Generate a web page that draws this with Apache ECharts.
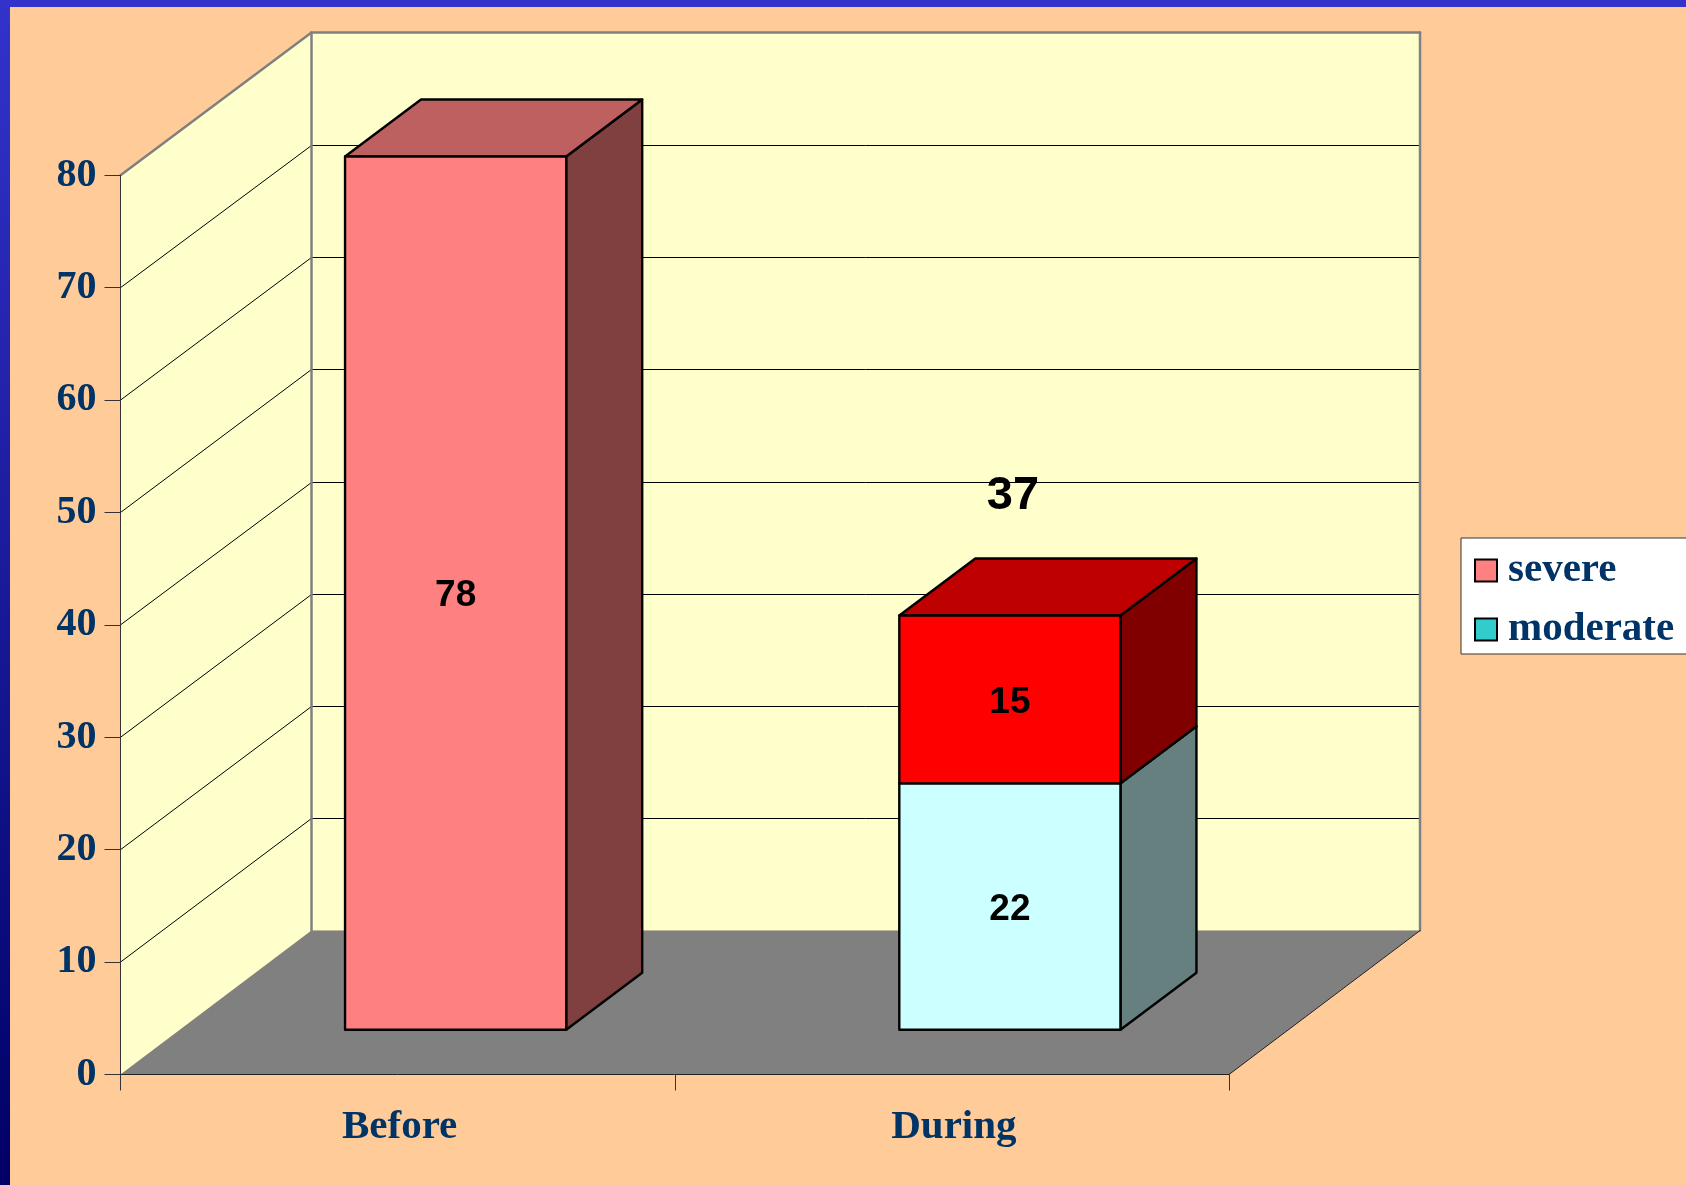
<!DOCTYPE html>
<html>
<head>
<meta charset="utf-8">
<style>html,body{margin:0;padding:0;background:#FFCC99}#c{width:1686px;height:1185px}</style>
<script src="https://cdn.jsdelivr.net/npm/echarts@6/dist/echarts.min.js"></script>
</head>
<body>
<div id="c"></div>
<script>
const categories = ['Before', 'During'];
const moderateValues = [0, 22];
const severeValues = [78, 15];
const totalLabels = [null, 37];
const yTicks = [10, 20, 30, 40, 50, 60, 70];
const legendNames = ['severe', 'moderate'];

const moderateFaces = ['#CCFFFF', '#CCFFFF'];
const severeFaces = ['#FF8080', '#FF0000'];

const WALL_DX = 191, WALL_DY = -143.9, WALL_SCALE = 0.9988;
const LIFT_DX = 58, LIFT_DY = -44.8;
const BAR_DX = 76, BAR_DY = -57;
const BAR_RATIO = 0.399;
const BAR_SCALE = 0.996;
const GRID_COLOR = '#000000', WALL_EDGE = '#808080';

function shade(hex, k) {
  const n = parseInt(hex.slice(1), 16);
  const c = [(n >> 16) & 255, (n >> 8) & 255, n & 255].map(v => Math.round(v * k));
  return 'rgb(' + c.join(',') + ')';
}
function poly(points, fill, stroke, width) {
  return { type: 'polygon', shape: { points }, style: { fill, stroke: stroke || null, lineWidth: width || 0, lineJoin: 'round' } };
}
function seg(a, b, stroke, width) {
  return { type: 'line', shape: { x1: a[0], y1: a[1], x2: b[0], y2: b[1] }, style: { stroke, lineWidth: width, lineCap: 'round' } };
}

function renderWalls(params, api) {
  const cs = params.coordSys;
  const x0 = cs.x, x1 = cs.x + cs.width;
  const y0 = api.coord([0, 0])[1], yTop = api.coord([0, 80])[1];
  const back = (x, y) => [x + WALL_DX, y0 + (y - y0) * WALL_SCALE + WALL_DY];
  const kids = [
    poly([[x0, y0], [x0, yTop], back(x0, yTop), back(x0, y0)], '#FFFFCC'),
    poly([back(x0, y0), back(x0, yTop), back(x1, yTop), back(x1, y0)], '#FFFFCC'),
    poly([[x0, y0], [x1, y0], back(x1, y0), back(x0, y0)], '#808080')
  ];
  yTicks.forEach(t => {
    const y = api.coord([0, t])[1];
    const b = back(x0, y);
    const by = Math.round(b[1]) + 0.5;
    kids.push(seg([x0, y], [b[0], by], GRID_COLOR, 1));
    kids.push(seg([b[0], by], [back(x1, y)[0], by], GRID_COLOR, 1));
  });
  kids.push(seg([x0, yTop], back(x0, yTop), WALL_EDGE, 2.5));
  kids.push(seg(back(x0, yTop), back(x1, yTop), WALL_EDGE, 2.5));
  kids.push(seg(back(x0, yTop), back(x0, y0), WALL_EDGE, 2.5));
  kids.push(seg(back(x1, yTop), back(x1, y0), WALL_EDGE, 2.5));
  kids.push(seg([x1, y0], back(x1, y0), '#222222', 1));
  return { type: 'group', children: kids };
}

function makeRender(faces) {
  return function (params, api) {
    const idx = api.value(0), base = api.value(1), val = api.value(2);
    if (!val) return null;
    const c = api.coord([idx, 0]);
    const yZero = c[1];
    const scaled = v => yZero + (api.coord([idx, v])[1] - yZero) * BAR_SCALE + LIFT_DY;
    const w = api.size([1, 0])[0] * BAR_RATIO;
    const l = c[0] + LIFT_DX - w / 2, r = l + w;
    const yb = scaled(base), yt = scaled(base + val);
    const face = faces[idx];
    const kids = [
      poly([[r, yb], [r + BAR_DX, yb + BAR_DY], [r + BAR_DX, yt + BAR_DY], [r, yt]], shade(face, 0.5), '#000', 2.4),
      poly([[l, yt], [r, yt], [r + BAR_DX, yt + BAR_DY], [l + BAR_DX, yt + BAR_DY]], shade(face, 0.75), '#000', 2.4),
      poly([[l, yb], [r, yb], [r, yt], [l, yt]], face, '#000', 2.4),
      { type: 'text', style: { text: String(val), x: (l + r) / 2, y: (yb + yt) / 2 + 3, align: 'center', verticalAlign: 'middle',
          fill: '#000', font: 'bold 37px "Liberation Sans", Arial, sans-serif' }, z2: 10 }
    ];
    const total = totalLabels[idx];
    if (total != null && base > 0) {
      kids.push({ type: 'text', style: { text: String(total), x: (l + r) / 2 + 3, y: yt - 119, align: 'center', verticalAlign: 'middle',
        fill: '#000', font: 'bold 47px "Liberation Sans", Arial, sans-serif' }, z2: 10 });
    }
    return { type: 'group', children: kids };
  };
}

const serif = '"Liberation Serif", "Times New Roman", serif';
const navy = '#003366';
const chart = echarts.init(document.getElementById('c'), null, { renderer: 'canvas' });
chart.setOption({
  backgroundColor: '#FFCC99',
  animation: false,
  grid: { left: 120.5, top: 175.3, width: 1108.5, height: 899.2, containLabel: false },
  legend: {
    data: legendNames, orient: 'vertical', left: 1461, top: 538,
    padding: [12, 14, 4, 13], itemWidth: 22, itemHeight: 22, itemGap: 18,
    backgroundColor: '#FFFFFF', borderColor: '#333333', borderWidth: 1, borderRadius: 0,
    icon: 'rect', selectedMode: false,
    itemStyle: { borderColor: '#000', borderWidth: 2 },
    textStyle: { fontFamily: serif, fontWeight: 'bold', fontSize: 41, color: navy, lineHeight: 24, padding: [0, 0, 0, 6] }
  },
  xAxis: {
    type: 'category', data: categories, boundaryGap: true, z: 5,
    axisLine: { show: true, lineStyle: { color: '#222', width: 1 } },
    axisTick: { show: true, length: 16, inside: false, alignWithLabel: false, lineStyle: { color: '#333', width: 1 } },
    axisLabel: { fontFamily: serif, fontWeight: 'bold', fontSize: 41, color: navy, margin: 32, padding: [0, 0, 0, 4] },
    splitLine: { show: false }
  },
  yAxis: {
    type: 'value', min: 0, max: 80, interval: 10, z: 5,
    axisLine: { show: true, lineStyle: { color: '#333', width: 1 } },
    axisTick: { show: true, length: 16, lineStyle: { color: '#333', width: 1 } },
    axisLabel: { fontFamily: serif, fontWeight: 'bold', fontSize: 40, color: navy, margin: 24, padding: [3, 0, 0, 0] },
    splitLine: { show: false }
  },
  graphic: [
    { type: 'rect', left: 0, top: 0, z: 100, shape: { width: 10, height: 1185 },
      style: { fill: new echarts.graphic.LinearGradient(0, 0, 0, 1, [{ offset: 0, color: '#3333CC' }, { offset: 1, color: '#000066' }]) } },
    { type: 'rect', left: 0, top: 0, z: 100, shape: { width: 1686, height: 7 }, style: { fill: '#3333CC' } }
  ],
  series: [
    { type: 'custom', name: 'walls', z: 1, silent: true, data: [[0]], encode: { x: 0 }, renderItem: renderWalls },
    { type: 'custom', name: 'moderate', z: 2, itemStyle: { color: '#33CCCC' },
      data: categories.map((_, i) => [i, 0, moderateValues[i]]), encode: { x: 0, y: [1, 2] }, renderItem: makeRender(moderateFaces) },
    { type: 'custom', name: 'severe', z: 3, itemStyle: { color: '#FF8080' },
      data: categories.map((_, i) => [i, moderateValues[i], severeValues[i]]), encode: { x: 0, y: [1, 2] }, renderItem: makeRender(severeFaces) }
  ]
});
</script>
</body>
</html>
